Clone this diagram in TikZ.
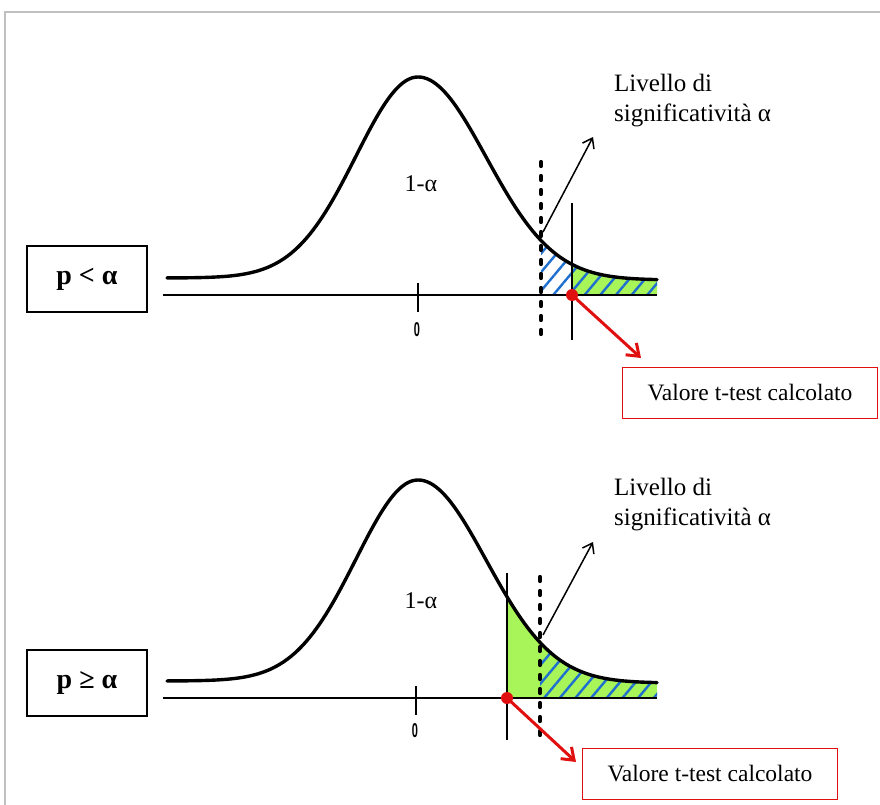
\documentclass[tikz,border=0pt]{standalone}
\usepackage{fontspec}
\setmainfont{Liberation Serif}
\setsansfont{Liberation Sans}
\usetikzlibrary{arrows.meta,patterns.meta}
\definecolor{framegray}{HTML}{C0C0C0}
\definecolor{tailgreen}{HTML}{A8F55A}
\definecolor{hatchblue}{HTML}{1F6FD0}
\definecolor{myred}{HTML}{E01010}
\tikzset{
  declare function={fl(\x)=-17-201*exp(-0.5*((\x-418)/62)^2);
                    fr(\x)=-15-203*exp(-0.5*((\x-418)/68)^2);},
  curve/.style={line width=3.4pt, line join=round, line cap=round},
  axis/.style={line width=2pt},
  tickmark/.style={line width=2.4pt},
  crit/.style={line width=4.2pt, line cap=round, dash pattern=on 4pt off 10pt},
  tline/.style={line width=2pt},
  hatch/.style={pattern={Lines[angle=50,distance=12pt,line width=2.4pt]}, pattern color=hatchblue},
  blackarrow/.style={line width=1.5pt, -{Straight Barb[length=9pt,width=13pt,line width=1.5pt]}},
  redarrow/.style={line width=3pt, draw=myred, -{Straight Barb[length=11pt,width=16pt,line width=3pt]}},
  reddot/.style={circle, fill=myred, inner sep=0pt, minimum size=12pt},
  redbox/.style={draw=myred, line width=1.5pt, minimum width=255pt, minimum height=51pt, inner sep=0pt, font=\fontsize{23.5}{28}\selectfont},
  pbox/.style={draw, line width=2.6pt, minimum width=120pt, minimum height=66pt, inner sep=0pt, font=\fontsize{28}{32}\selectfont\bfseries},
  lbl/.style={font=\fontsize{25}{30}\selectfont, anchor=base west, inner sep=0pt},
  onelbl/.style={font=\fontsize{24}{28}\selectfont, anchor=base, inner sep=0pt},
  zerolbl/.style={font=\fontsize{20}{22}\selectfont\sffamily\bfseries, xscale=0.55, inner sep=0pt}
}
\begin{document}
\begin{tikzpicture}[x=1pt,y=-1pt]
\useasboundingbox (0,0) rectangle (880,805);
% frame
\draw[framegray, line width=2pt] (5,806) -- (5,12) -- (881,12);

% ===== top diagram (axis y = 295) =====
\begin{scope}[shift={(0,295)}]
  \fill[tailgreen] (572,0) -- plot[domain=572:657,samples=30] (\x,{fr(\x)}) -- (657,0) -- cycle;
  \fill[hatch] (541,0) -- plot[domain=541:657,samples=40] (\x,{fr(\x)}) -- (657,0) -- cycle;
  \draw[axis] (163,0) -- (657,0);
  \draw[curve] plot[domain=167:418,samples=80] (\x,{fl(\x)}) -- plot[domain=418:657,samples=80] (\x,{fr(\x)});
  \draw[tickmark] (418,-12) -- (418,17);
  \node[zerolbl] (z1) at (417,35) {0};
  \node[onelbl] (one1) at (421,-104) {1-α};
  \draw[crit] (541,-133) -- (541,45);
  \draw[tline] (572,-92) -- (572,45);
  \coordinate (a1s) at (543,-63);
  \coordinate (a1e) at (593,-158);
  \draw[blackarrow] (a1s) -- (a1e);
  \node[reddot] (d1) at (572,0) {};
  \node[redbox] (v1) at (750,98) {Valore t-test calcolato};
  \coordinate (r1e) at (641,63);
  \draw[redarrow] (d1.center) -- (r1e);
  \node[pbox] (p1) at (87,-16) {p < α};
  \node[lbl] (l1a) at (614,-203) {Livello di};
  \node[lbl] (l1b) at (614,-173) {significatività α};
\end{scope}

% ===== bottom diagram (axis y = 698) =====
\begin{scope}[shift={(0,698)}]
  \fill[tailgreen] (507,0) -- plot[domain=507:657,samples=40] (\x,{fr(\x)}) -- (657,0) -- cycle;
  \fill[hatch] (540,0) -- plot[domain=540:657,samples=40] (\x,{fr(\x)}) -- (657,0) -- cycle;
  \draw[axis] (163,0) -- (657,0);
  \draw[curve] plot[domain=167:418,samples=80] (\x,{fl(\x)}) -- plot[domain=418:657,samples=80] (\x,{fr(\x)});
  \draw[tickmark] (416,-12) -- (416,17);
  \node[zerolbl] (z2) at (415,33) {0};
  \node[onelbl] (one2) at (421,-90) {1-α};
  \draw[crit] (540,-121) -- (540,42);
  \draw[tline] (507,-125) -- (507,42);
  \coordinate (a2s) at (543,-63);
  \coordinate (a2e) at (593,-156);
  \draw[blackarrow] (a2s) -- (a2e);
  \node[reddot] (d2) at (507,0) {};
  \node[redbox] (v2) at (710,76) {Valore t-test calcolato};
  \coordinate (r2e) at (576,64);
  \draw[redarrow] (d2.center) -- (r2e);
  \node[pbox] (p2) at (87,-15) {p ≥ α};
  \node[lbl] (l2a) at (614,-203) {Livello di};
  \node[lbl] (l2b) at (614,-173) {significatività α};
\end{scope}
\end{tikzpicture}
\end{document}
